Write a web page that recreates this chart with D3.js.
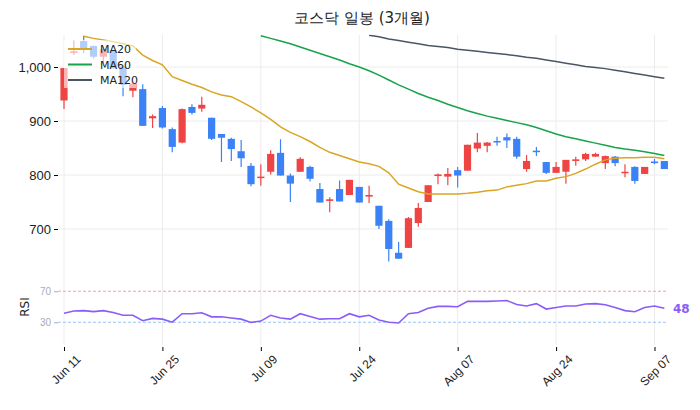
<!DOCTYPE html>
<html><head><meta charset="utf-8">
<script src="https://cdn.jsdelivr.net/npm/d3@7"></script>
<style>body{margin:0;background:#fff}svg{font-family:"DejaVu Sans",sans-serif}</style>
</head><body><svg id="c" width="700" height="410"></svg>
<script>
const tickIdx = [0,10,20,30,40,50,60];
const tickLabels = ["Jun 11","Jun 25","Jul 09","Jul 24","Aug 07","Aug 24","Sep 07"];
const opens  = [938,1026,1048,1039,1019,1031,1001,956,959,905,924,885,860,926,923,906,876,867,844,817,795,806,841,799,806,815,774,752,774,763,778,760,743,715,656,665,711,750,798,797,809,808,849,854,863,870,867,811,845,824,804,806,826,829,834,822,834,804,815,802,825,826];
const closes = [998,1029,1035,1019,1033,998,967,969,891,909,888,852,922,915,930,867,869,848,831,783,797,839,799,784,830,793,749,755,751,791,749,763,706,663,645,720,739,781,801,802,799,856,860,860,861,864,834,826,843,804,815,828,829,839,839,835,822,806,789,815,822,811];
const highs  = [998,1049,1058,1040,1036,1031,1003,973,968,912,928,888,923,931,945,906,876,869,865,822,820,846,866,803,833,817,785,759,790,791,778,780,743,718,676,722,748,781,803,813,815,856,878,861,871,877,871,837,852,824,824,828,834,841,841,836,835,820,816,815,830,826];
const lows   = [922,1022,1026,1016,1007,996,946,944,891,887,886,842,859,912,917,865,824,826,815,779,780,801,799,750,806,788,749,731,751,763,749,748,700,637,645,665,704,750,783,781,777,808,842,842,854,850,830,806,835,802,804,784,817,826,834,811,816,796,784,802,820,811];
const ma20 = [null,null,1057,1053,1050,1047,1043,1039,1022,1012,1004,982,975,968,962,954,948,945,936,926,915,903,889,879,871,862,851,842,836,830,824,821,816,804,783,776,769,765,765,765,765,766,768,771,772,778,781,784,789,789,794,797,803,811,820,828,831,832,832,833,833,830];
const ma60 = Array(20).fill(null).concat([1058,1053,1048,1043,1037,1031,1025,1019,1013,1006,1000,993,985,976,967,959,951,944,938,931,925,919,914,909,905,901,897,893,888,882,876,871,867,863,859,855,851,848,846,843,840,836]);
const ma120 = Array(31).fill(null).concat([1059,1056,1052,1049,1046,1043,1040,1038,1036,1033,1031,1029,1027,1025,1023,1021,1018,1016,1013,1010,1007,1004,1001,999,997,994,991,988,985,982,979]);
const rsi = [41.6,44.6,45,43.7,45,42.5,39,39,32,35,34,30.1,41,41,42.2,37,37,35.5,34,29.8,31.5,39,35.5,34,41,37.5,34,34.5,34.5,41,37,39,33,30,29,41,42.5,48,50.5,50.5,50,57,57,57,57.5,58,53,51,54,47,49,51,51,53.5,54,52.5,49,45,43.5,49,51,48];
const priceTicks = [700,800,900,1000];

const svg = d3.select("#c");
const n = opens.length;
const x = d3.scaleLinear().domain([0,60]).range([64,654.5]);
const y = d3.scaleLinear().domain([640,1060]).range([261.4,34.6]);
const yr = d3.scaleLinear().domain([0,100]).range([345.5,268]);
const up="#ef4444", dn="#3b82f6";

svg.append("text").attr("x",362).attr("y",23).attr("text-anchor","middle").attr("font-size",15).attr("fill","#222").text("코스닥 일봉 (3개월)");

// grid
const g = svg.append("g");
tickIdx.forEach(i=>{ g.append("line").attr("x1",x(i)).attr("x2",x(i)).attr("y1",35).attr("y2",345).attr("stroke","#ececec"); });
priceTicks.forEach(v=>{ g.append("line").attr("x1",58).attr("x2",668).attr("y1",y(v)).attr("y2",y(v)).attr("stroke","#ececec"); });

const yAxis = svg.append("g").attr("transform","translate(58,0)").call(d3.axisLeft(y).tickValues(priceTicks).tickFormat(d3.format(",")).tickSize(4));
yAxis.select(".domain").remove();
yAxis.selectAll("text").attr("font-size",13).attr("fill","#222");

const clip = svg.append("clipPath").attr("id","pc").append("rect").attr("x",55).attr("y",34.6).attr("width",620).attr("height",227);
const pg = svg.append("g").attr("clip-path","url(#pc)");

// candles
const idx = d3.range(n);
pg.selectAll(".w").data(idx).join("line").attr("x1",i=>x(i)).attr("x2",i=>x(i)).attr("y1",i=>y(highs[i])).attr("y2",i=>y(lows[i]))
  .attr("stroke",i=>closes[i]>=opens[i]?up:dn).attr("stroke-width",1.2);
pg.selectAll(".b").data(idx).join("rect").attr("x",i=>x(i)-3.6).attr("width",7.2)
  .attr("y",i=>y(Math.max(opens[i],closes[i]))).attr("height",i=>Math.max(1.5,Math.abs(y(opens[i])-y(closes[i]))))
  .attr("fill",i=>closes[i]>=opens[i]?up:dn);

const line = d3.line().defined(d=>d[1]!=null).x(d=>x(d[0])).y(d=>y(d[1]));
[[ma20,"#daa520"],[ma60,"#16a34a"],[ma120,"#4b5563"]].forEach(([a,c])=>{
  pg.append("path").datum(a.map((v,i)=>[i,v])).attr("d",line).attr("fill","none").attr("stroke",c).attr("stroke-width",1.5);
});

// legend
const lg = svg.append("g");
lg.append("rect").attr("x",64).attr("y",40).attr("width",72).attr("height",48).attr("fill","#fff").attr("opacity",0.6);
[["MA20","#daa520"],["MA60","#16a34a"],["MA120","#4b5563"]].forEach(([t,c],k)=>{
  const yy=49+k*15.5;
  lg.append("line").attr("x1",68).attr("x2",92).attr("y1",yy).attr("y2",yy).attr("stroke",c).attr("stroke-width",2);
  lg.append("text").attr("x",100).attr("y",yy+4).attr("font-size",11).attr("fill","#222").text(t);
});

// RSI
svg.append("line").attr("x1",58).attr("x2",668).attr("y1",yr(70)).attr("y2",yr(70)).attr("stroke","#f4a0a0").attr("stroke-dasharray","3,2");
svg.append("line").attr("x1",58).attr("x2",668).attr("y1",yr(30)).attr("y2",yr(30)).attr("stroke","#93c5fd").attr("stroke-dasharray","3,2");
const ra = svg.append("g").attr("transform","translate(58,0)").call(d3.axisLeft(yr).tickValues([30,70]).tickSize(4));
ra.select(".domain").remove();
ra.selectAll("text").attr("font-size",10).attr("fill","#aab");
ra.selectAll("line").attr("stroke","#aab");
svg.append("path").datum(rsi).attr("d",d3.line().x((d,i)=>x(i)).y(d=>yr(d))).attr("fill","none").attr("stroke","#8b5cf6").attr("stroke-width",1.6);
svg.append("text").attr("x",673).attr("y",yr(rsi[n-1])+5).attr("font-size",12).attr("font-weight","bold").attr("fill","#8b5cf6").text(rsi[n-1]);
svg.append("text").attr("transform","translate(29,307) rotate(-90)").attr("text-anchor","middle").attr("font-size",12).attr("fill","#222").text("RSI");

// x axis
const xa = svg.append("g").attr("transform","translate(0,347)").call(d3.axisBottom(x).tickValues(tickIdx).tickFormat((d,i)=>tickLabels[i]).tickSize(4));
xa.select(".domain").remove();
xa.selectAll("text").attr("font-size",12).attr("fill","#222").attr("text-anchor","end").attr("transform","translate(6,2) rotate(-45)");
</script></body></html>
